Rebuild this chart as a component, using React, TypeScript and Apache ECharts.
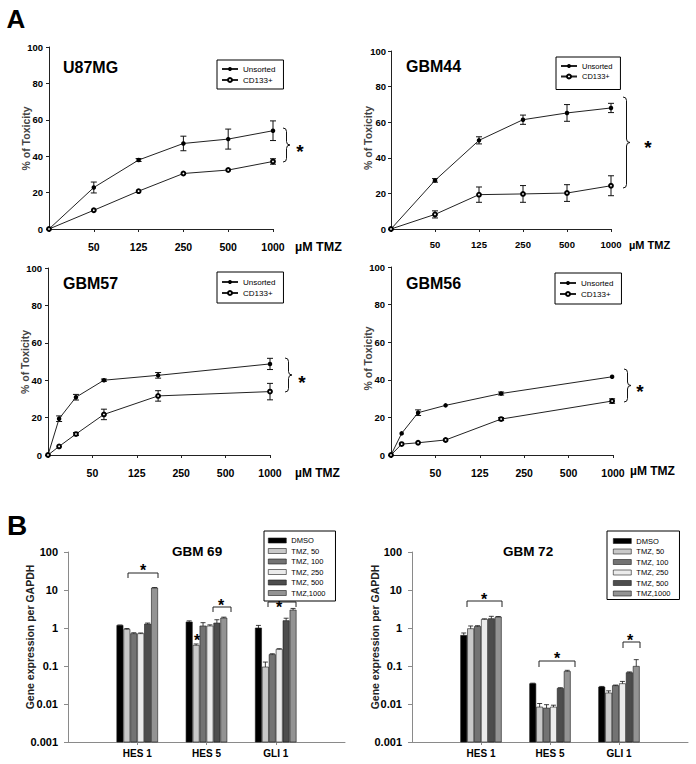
import React, { useEffect, useRef } from "react";
import * as echarts from "echarts";

// ---------- DATA ----------
const doseTickLabels = ["0", "50", "125", "250", "500", "1000"];
const lineSeriesNames = ["Unsorted", "CD133+"];

// Panel A – U87MG
const u87Dose = [0, 1, 2, 3, 4, 5];
const u87Unsorted = [0, 22.8, 37.9, 47, 49.4, 54];
const u87UnsortedErr = [0, 3, 0.8, 4, 5.5, 5.4];
const u87Cd133 = [0, 10.3, 20.8, 30.5, 32.4, 37.1];
const u87Cd133Err = [0, 0, 0, 0, 0, 1.5];

// Panel A – GBM44
const gbm44Dose = [0, 1, 2, 3, 4, 5];
const gbm44Unsorted = [0, 27.3, 49.8, 61.4, 65.2, 68];
const gbm44UnsortedErr = [0, 1, 2, 2.6, 4.7, 2.6];
const gbm44Cd133 = [0, 8.2, 19.3, 19.7, 20.2, 24.3];
const gbm44Cd133Err = [0, 2, 4.3, 4.7, 4.7, 5.6];

// Panel A – GBM57
const gbm57Dose = [0, 0.25, 0.63, 1.26, 2.48, 5];
const gbm57Unsorted = [0, 19.4, 30.9, 40, 42.6, 48.7];
const gbm57UnsortedErr = [0, 1.5, 1.5, 0.6, 1.5, 3];
const gbm57Cd133 = [0, 4.6, 11.2, 21.7, 31.6, 33.9];
const gbm57Cd133Err = [0, 0, 0.8, 2.8, 2.8, 4.4];

// Panel A – GBM56
const gbm56Dose = [0, 0.24, 0.61, 1.23, 2.48, 4.98];
const gbm56Unsorted = [0, 11.5, 22.5, 26.4, 32.7, 41.6];
const gbm56UnsortedErr = [0, 0, 1.5, 0, 0.8, 0];
const gbm56Cd133 = [0, 5.8, 6.5, 8, 19.1, 28.7];
const gbm56Cd133Err = [0, 0, 0, 0, 0.8, 1.2];

// Panel B
const geneCategories = ["", "HES 1", "HES 5", "GLI 1", ""];
const treatmentNames = ["DMSO", "TMZ, 50", "TMZ, 100", "TMZ, 250", "TMZ, 500", "TMZ,1000"];
const logTickLabels = ["0.001", "0.01", "0.1", "1", "10", "100"];

// values per treatment: [HES 1, HES 5, GLI 1]
const gbm69DMSO = [1.17, 1.44, 1.0];
const gbm69TMZ50 = [0.92, 0.35, 0.094];
const gbm69TMZ100 = [0.71, 1.13, 0.2];
const gbm69TMZ250 = [0.71, 1.13, 0.275];
const gbm69TMZ500 = [1.27, 1.35, 1.56];
const gbm69TMZ1000 = [11.3, 1.83, 2.97];
const gbm69DMSOErr = [0.03, 0.1, 0.17];
const gbm69TMZ50Err = [0.05, 0.03, 0.033];
const gbm69TMZ100Err = [0.04, 0.25, 0.01];
const gbm69TMZ250Err = [0.03, 0.08, 0.01];
const gbm69TMZ500Err = [0.08, 0.3, 0.25];
const gbm69TMZ1000Err = [0.3, 0.1, 0.3];

const gbm72DMSO = [0.64, 0.0343, 0.028];
const gbm72TMZ50 = [0.96, 0.0083, 0.0195];
const gbm72TMZ100 = [1.1, 0.0078, 0.0305];
const gbm72TMZ250 = [1.69, 0.0083, 0.0343];
const gbm72TMZ500 = [1.76, 0.0258, 0.0668];
const gbm72TMZ1000 = [1.95, 0.072, 0.098];
const gbm72DMSOErr = [0.1, 0.001, 0.001];
const gbm72TMZ50Err = [0.17, 0.002, 0.0027];
const gbm72TMZ100Err = [0.05, 0.0018, 0.001];
const gbm72TMZ250Err = [0.05, 0.001, 0.005];
const gbm72TMZ500Err = [0.27, 0.001, 0.003];
const gbm72TMZ1000Err = [0.05, 0.005, 0.049];

// ---------- STYLE ----------
const F = "'Liberation Sans', Arial, Helvetica, sans-serif";
const treatmentColors = ["#000000", "#c9c9c9", "#737373", "#ebebeb", "#4d4d4d", "#939393"];

const Brace = echarts.graphic.extendShape({
  shape: { x: 0, y1: 0, y2: 0, w: 6 },
  buildPath(ctx: any, s: any) {
    const { x, y1, y2, w } = s;
    const m = (y1 + y2) / 2;
    const h = w / 2;
    ctx.moveTo(x, y1);
    ctx.quadraticCurveTo(x + h, y1, x + h, y1 + h);
    ctx.lineTo(x + h, m - h);
    ctx.quadraticCurveTo(x + h, m, x + w, m);
    ctx.quadraticCurveTo(x + h, m, x + h, m + h);
    ctx.lineTo(x + h, y2 - h);
    ctx.quadraticCurveTo(x + h, y2, x, y2);
  },
});
echarts.graphic.registerShape("brace", Brace);

const panelsA = [
  { title: "U87MG", dose: u87Dose, un: u87Unsorted, unErr: u87UnsortedErr, cd: u87Cd133, cdErr: u87Cd133Err },
  { title: "GBM44", dose: gbm44Dose, un: gbm44Unsorted, unErr: gbm44UnsortedErr, cd: gbm44Cd133, cdErr: gbm44Cd133Err },
  { title: "GBM57", dose: gbm57Dose, un: gbm57Unsorted, unErr: gbm57UnsortedErr, cd: gbm57Cd133, cdErr: gbm57Cd133Err },
  { title: "GBM56", dose: gbm56Dose, un: gbm56Unsorted, unErr: gbm56UnsortedErr, cd: gbm56Cd133, cdErr: gbm56Cd133Err },
];
const layoutA = [
  { grid: { left: 49, top: 47, width: 224, height: 182 }, xFont: 10.5, xMargin: 12, yMargin: 6,
    title: [63, 67], unit: [295, 247, 12.5], ytitle: [25.5, 138.5],
    legend: { left: 217, top: 60, padding: [5, 8, 5, 4], font: 8, gap: 3 },
    brace: [283, 128, 162, 7], star: [300, 147] },
  { grid: { left: 391, top: 51, width: 220, height: 178 }, xFont: 9.5, xMargin: 10, yMargin: 5,
    title: [406, 66.5], unit: [629, 245, 11], ytitle: [368, 138],
    legend: { left: 556, top: 57, padding: [5, 8, 9, 4], font: 7.5, gap: 2.5 },
    brace: [623, 97, 188, 7], star: [648, 143] },
  { grid: { left: 48, top: 268, width: 222, height: 187 }, xFont: 10.5, xMargin: 12, yMargin: 6,
    title: [63, 283], unit: [295, 473, 12], ytitle: [25, 362],
    legend: { left: 217, top: 272, padding: [6, 8, 6, 4], font: 8, gap: 3 },
    brace: [285, 358, 392, 7], star: [302, 378] },
  { grid: { left: 391, top: 267, width: 222, height: 188 }, xFont: 10.5, xMargin: 12, yMargin: 6,
    title: [406, 283], unit: [630, 471, 12], ytitle: [368, 358.5],
    legend: { left: 555, top: 273, padding: [6, 8, 6, 4], font: 8, gap: 3 },
    brace: [624, 369, 402, 7], star: [640, 387] },
];

const panelsB = [
  {
    title: "GBM 69",
    vals: [gbm69DMSO, gbm69TMZ50, gbm69TMZ100, gbm69TMZ250, gbm69TMZ500, gbm69TMZ1000],
    errs: [gbm69DMSOErr, gbm69TMZ50Err, gbm69TMZ100Err, gbm69TMZ250Err, gbm69TMZ500Err, gbm69TMZ1000Err],
  },
  {
    title: "GBM 72",
    vals: [gbm72DMSO, gbm72TMZ50, gbm72TMZ100, gbm72TMZ250, gbm72TMZ500, gbm72TMZ1000],
    errs: [gbm72DMSOErr, gbm72TMZ50Err, gbm72TMZ100Err, gbm72TMZ250Err, gbm72TMZ500Err, gbm72TMZ1000Err],
  },
];
const layoutB = [
  { grid: { left: 68, top: 552, width: 277, height: 190 }, title: [197, 551.5], ytitle: [29.5, 637],
    legend: { left: 264, top: 531, padding: [5.5, 10, 4, 4] },
    brackets: [[128, 158, 573, 578], [213, 231, 607, 612], [268, 296, 602, 607]],
    stars: [[143, 567], [221, 602], [279, 604], [197, 637]] },
  { grid: { left: 412, top: 552, width: 276, height: 190 }, title: [528, 551.5], ytitle: [374.5, 637],
    legend: { left: 607, top: 531, padding: [6, 9, 2, 6] },
    brackets: [[467, 502, 601, 607], [539, 575, 661, 667], [623, 640, 642, 648]],
    stars: [[484, 596], [557, 655], [630, 637]] },
];

function errRender(params: any, api: any) {
  const x = api.value(0), y = api.value(1), e = api.value(2);
  const children: any[] = [];
  if (e > 0) {
    const t = api.coord([x, y + e]);
    const b = api.coord([x, y - e]);
    const hw = 3;
    const st = { stroke: "#111", lineWidth: 1 };
    children.push({ type: "line", shape: { x1: t[0], y1: t[1], x2: b[0], y2: b[1] }, style: st });
    children.push({ type: "line", shape: { x1: t[0] - hw, y1: t[1], x2: t[0] + hw, y2: t[1] }, style: st });
    children.push({ type: "line", shape: { x1: b[0] - hw, y1: b[1], x2: b[0] + hw, y2: b[1] }, style: st });
  }
  return { type: "group", children };
}

function barRender(idx: number, color: string) {
  return (params: any, api: any) => {
    const cat = api.value(0), v = api.value(1), e = api.value(2);
    const p1 = api.coord([1, v]);
    const p2 = api.coord([2, v]);
    const step = (p2[0] - p1[0]) * 0.1;
    const w = step * 0.9;
    const top = api.coord([cat, v]);
    const base = api.coord([cat, 0.001]);
    const cx = top[0] + (idx - 2.5) * step;
    const children: any[] = [
      { type: "rect", shape: { x: cx - w / 2, y: top[1], width: w, height: base[1] - top[1] },
        style: { fill: color, stroke: "#1a1a1a", lineWidth: 0.6 } },
    ];
    if (e > 0) {
      const et = api.coord([cat, v + e]);
      const st = { stroke: "#111", lineWidth: 0.8 };
      children.push({ type: "line", shape: { x1: cx, y1: top[1], x2: cx, y2: et[1] }, style: st });
      children.push({ type: "line", shape: { x1: cx - w * 0.4, y1: et[1], x2: cx + w * 0.4, y2: et[1] }, style: st });
    }
    return { type: "group", children };
  };
}

function buildOption() {
  const grid: any[] = [];
  const xAxis: any[] = [];
  const yAxis: any[] = [];
  const series: any[] = [];
  const legend: any[] = [];
  const graphic: any[] = [];

  const txt = (x: number, y: number, text: string, size: number, opts: any = {}) => ({
    type: "text", x, y, rotation: opts.rotation || 0,
    style: { text, fontFamily: F, fontSize: size, fontWeight: opts.weight || "bold",
      fill: opts.color || "#000", align: opts.align || "left", verticalAlign: opts.va || "middle" },
  });

  graphic.push(txt(16, 18.5, "A", 26, { align: "center" }));
  graphic.push(txt(17, 525, "B", 28, { align: "center" }));

  panelsA.forEach((p, k) => {
    const L = layoutA[k];
    grid.push(L.grid);
    xAxis.push({
      type: "value", gridIndex: k, min: 0, max: 5, interval: 1,
      axisLine: { lineStyle: { color: "#222", width: 1 } },
      axisTick: { show: true, length: 3, lineStyle: { color: "#222" } },
      splitLine: { show: false },
      axisLabel: { margin: L.xMargin, fontFamily: F, fontSize: L.xFont, fontWeight: "bold", color: "#000",
        formatter: (v: number) => (v === 0 ? "" : doseTickLabels[Math.round(v)]) },
    });
    yAxis.push({
      type: "value", gridIndex: k, min: 0, max: 100, interval: 20,
      axisLine: { show: true, lineStyle: { color: "#222", width: 1 } },
      axisTick: { show: true, length: 3, lineStyle: { color: "#222" } },
      splitLine: { show: false },
      axisLabel: { margin: L.yMargin, fontFamily: F, fontSize: 9.5, fontWeight: "bold", color: "#000" },
    });
    series.push({
      type: "custom", xAxisIndex: k, yAxisIndex: k, renderItem: errRender, z: 2, silent: true,
      data: p.dose.map((d, i) => [d, p.un[i], p.unErr[i]]),
    });
    series.push({
      type: "custom", xAxisIndex: k, yAxisIndex: k, renderItem: errRender, z: 2, silent: true,
      data: p.dose.map((d, i) => [d, p.cd[i], p.cdErr[i]]),
    });
    series.push({
      type: "line", name: lineSeriesNames[0], xAxisIndex: k, yAxisIndex: k, z: 3,
      data: p.dose.map((d, i) => [d, p.un[i]]),
      symbol: "circle", symbolSize: 4.5,
      itemStyle: { color: "#000" }, lineStyle: { color: "#222", width: 1 },
    });
    series.push({
      type: "line", name: lineSeriesNames[1], xAxisIndex: k, yAxisIndex: k, z: 4,
      data: p.dose.map((d, i) => [d, p.cd[i]]),
      symbol: "emptyCircle", symbolSize: 3.8,
      itemStyle: { color: "#000", borderColor: "#000", borderWidth: 0.9 },
      lineStyle: { color: "#222", width: 1 },
    });
    legend.push({
      orient: "vertical", left: L.legend.left, top: L.legend.top, padding: L.legend.padding,
      itemGap: L.legend.gap, itemWidth: 16, itemHeight: 5, selectedMode: false,
      borderColor: "#000", borderWidth: 1, backgroundColor: "#fff",
      textStyle: { fontFamily: F, fontSize: L.legend.font, color: "#000" },
      data: lineSeriesNames,
    });
    graphic.push(txt(L.title[0], L.title[1], p.title, 16));
    graphic.push(txt(L.unit[0], L.unit[1], "µM TMZ", L.unit[2]));
    graphic.push(txt(L.ytitle[0], L.ytitle[1], "% of Toxicity", 10.5,
      { rotation: Math.PI / 2, align: "center", color: "#444" }));
    graphic.push({ type: "brace", shape: { x: L.brace[0], y1: L.brace[1], y2: L.brace[2], w: L.brace[3] },
      style: { stroke: "#111", fill: "none", lineWidth: 1 } });
    graphic.push(txt(L.star[0], L.star[1] + 4.2, "*", 19, { align: "center" }));
  });

  panelsB.forEach((p, j) => {
    const k = 4 + j;
    const L = layoutB[j];
    grid.push(L.grid);
    xAxis.push({
      type: "category", gridIndex: k, data: geneCategories, boundaryGap: false,
      axisLine: { lineStyle: { color: "#8a8a8a", width: 1 } },
      axisTick: { show: true, length: 3, lineStyle: { color: "#8a8a8a" },
        interval: (i: number, v: string) => v !== "" },
      axisLabel: { margin: 6, fontFamily: F, fontSize: 10, fontWeight: "bold", color: "#000",
        interval: 0 },
      splitLine: { show: false },
    });
    yAxis.push({
      type: "log", gridIndex: k, logBase: 10, min: 0.001, max: 100, splitNumber: 5,
      axisLine: { show: true, lineStyle: { color: "#8a8a8a", width: 1 } },
      axisTick: { show: true, length: 4, lineStyle: { color: "#8a8a8a" } },
      splitLine: { show: false },
      axisLabel: { margin: 10, fontFamily: F, fontSize: 11, fontWeight: "bold", color: "#000",
        formatter: (v: number) => logTickLabels[Math.round(Math.log10(v)) + 3] },
    });
    treatmentNames.forEach((name, i) => {
      series.push({
        type: "custom", name, xAxisIndex: k, yAxisIndex: k, silent: true,
        itemStyle: { color: treatmentColors[i], borderColor: "#1a1a1a", borderWidth: 0.6 },
        renderItem: barRender(i, treatmentColors[i]),
        encode: { x: 0, y: 1 },
        data: p.vals[i].map((v, g) => [g + 1, v, p.errs[i][g]]),
      });
    });
    legend.push({
      orient: "vertical", left: L.legend.left, top: L.legend.top, padding: L.legend.padding,
      itemGap: 2.5, itemWidth: 18, itemHeight: 5, selectedMode: false,
      borderColor: "#000", borderWidth: 1, backgroundColor: "#fff",
      textStyle: { fontFamily: F, fontSize: 7.5, color: "#000" },
      data: treatmentNames.map((n, i) => ({
        name: n, icon: "rect",
        itemStyle: { color: treatmentColors[i], borderColor: "#1a1a1a", borderWidth: 0.6 },
      })),
    });
    graphic.push(txt(L.title[0], L.title[1], p.title, 13.5, { align: "center" }));
    graphic.push(txt(L.ytitle[0], L.ytitle[1], "Gene expression per GAPDH", 10.5,
      { rotation: Math.PI / 2, align: "center", color: "#222" }));
    L.brackets.forEach((b) => {
      graphic.push({ type: "polyline",
        shape: { points: [[b[0], b[3]], [b[0], b[2]], [b[1], b[2]], [b[1], b[3]]] },
        style: { stroke: "#222", fill: "none", lineWidth: 1 } });
    });
    L.stars.forEach((s) => {
      graphic.push(txt(s[0], s[1] + 3.6, "*", 16, { align: "center" }));
    });
  });

  return {
    animation: false,
    backgroundColor: "#fff",
    grid, xAxis, yAxis, series, legend, graphic,
  };
}

export default function App() {
  const ref = useRef<HTMLDivElement>(null);
  useEffect(() => {
    if (!ref.current) return;
    const chart = echarts.init(ref.current, null, { renderer: "svg" });
    chart.setOption(buildOption() as any);
    return () => chart.dispose();
  }, []);
  return (
    <div
      ref={ref}
      style={{ position: "absolute", left: 0, top: 0, width: 696, height: 764, background: "#fff" }}
    />
  );
}
